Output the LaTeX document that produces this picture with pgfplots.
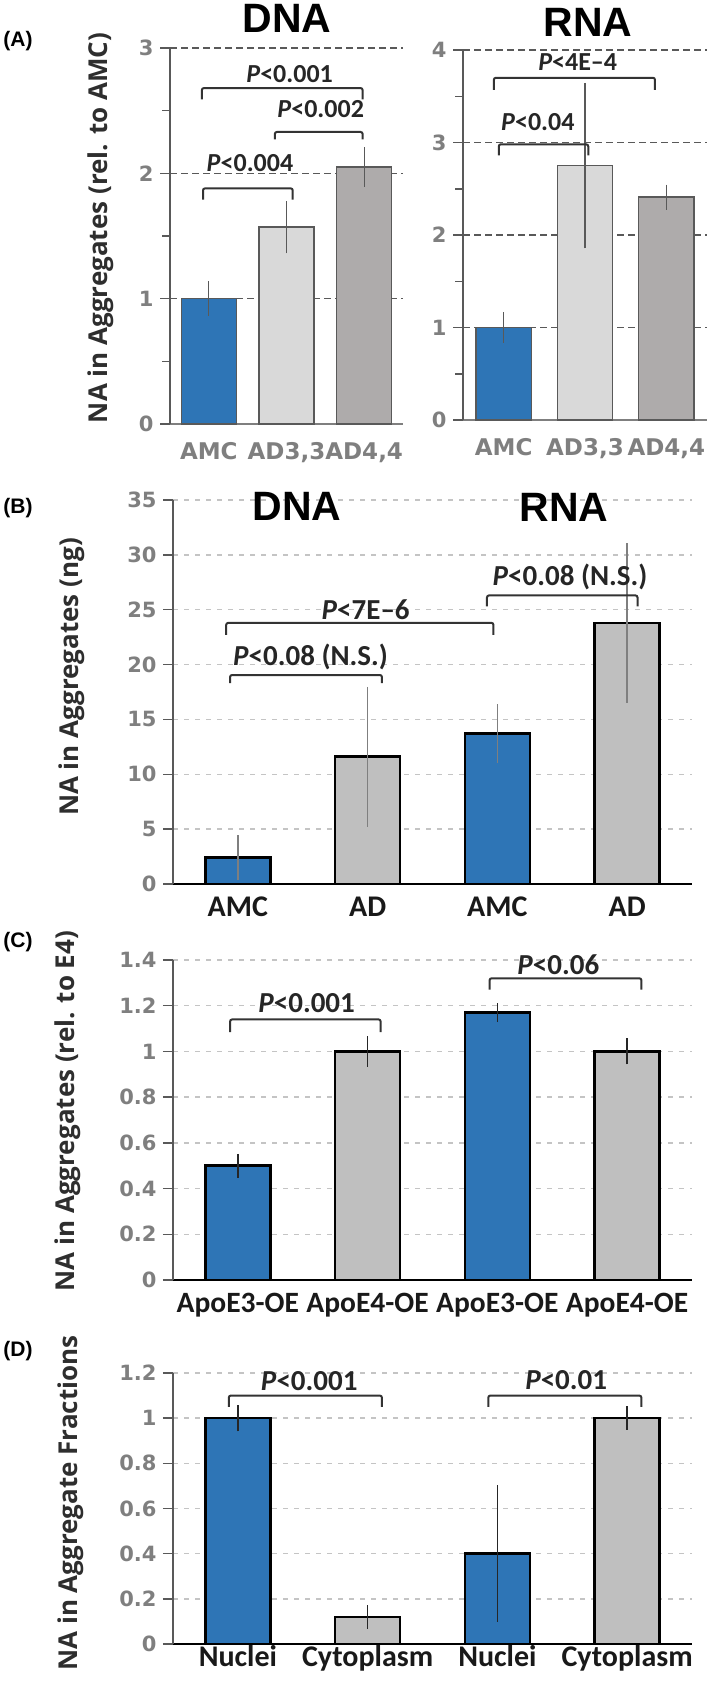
\documentclass[border=0pt]{standalone}
\usepackage{pgfplots}
\pgfplotsset{compat=1.18}
\usepackage{fontspec}
\setmainfont{Liberation Sans}
\newfontfamily\dvs{DejaVu Sans}
\newfontfamily\osans{Open Sans}
\newfontfamily\carl{Carlito}
\newcommand\fs[1]{\fontsize{#1bp}{#1bp}\selectfont}

\definecolor{barblue}{HTML}{2E75B6}
\definecolor{bargray}{HTML}{BFBFBF}
\definecolor{lightbar}{HTML}{D9D9D9}
\definecolor{darkbar}{HTML}{AEABAB}
\definecolor{tickgray}{HTML}{7F7F7F}
\definecolor{axgray}{HTML}{595959}
\definecolor{gridB}{HTML}{C4C4C4}
\definecolor{labgray}{HTML}{2E2E2E}

\tikzset{
  brk/.style={draw=black!80, line width=2bp, rounded corners=2bp},
  plabA/.style={font={\carl\bfseries\fs{26}}, text=black!85, inner sep=0pt},
  plab/.style={font={\carl\bfseries\fs{29}}, text=black!85, inner sep=0pt},
  ttl/.style={font={\bfseries\fs{41}}, anchor=base, inner sep=0pt},
  plet/.style={font={\bfseries\fs{21}}, inner sep=0pt},
  ylab/.style={rotate=90, font={\osans\bfseries\fs{26}}, text=labgray, inner sep=0pt},
}

\pgfplotsset{
  mybase/.style={
    scale only axis, anchor=south west, clip=false,
    axis x line*=bottom, axis y line*=left,
    tick align=outside, major tick length=10bp, minor tick length=8bp,
    xtick style={draw=none},
    ytick style={color=axgray, line width=1.5bp},
    y axis line style={color=axgray, line width=1.5bp},
    ymajorgrids,
    /pgf/number format/assume math mode=true,
    yticklabel style={font={\dvs\bfseries\fs{21}}, text=tickgray, xshift=-3bp},
  },
  panelA/.style={mybase,
    xmin=-0.5, xmax=2.5, ymin=0, xtick={0,1,2},
    xticklabels={AMC,{AD3,3},{AD4,4}},
    grid style={color=axgray, line width=1.5bp, dash pattern=on 7bp off 4bp},
    x axis line style={color=tickgray, line width=2bp},
    xticklabel style={font={\dvs\bfseries\fs{23}}, text=tickgray, anchor=north, yshift=-5bp},
  },
  panelB/.style={mybase,
    xmin=-0.5, xmax=3.5, ymin=0, xtick={0,1,2,3},
    grid style={color=gridB, line width=1.5bp, dash pattern=on 5bp off 6bp},
    x axis line style={color=black, line width=2.5bp},
    xticklabel style={font={\carl\bfseries\fs{30}}, text=black!90, anchor=base, yshift=-22bp},
  },
  barA/.style={ybar, bar shift=0pt, draw=axgray, line width=1.5bp,
    error bars/y dir=both, error bars/y explicit,
    error bars/error bar style={color=axgray, line width=1.3bp},
    error bars/error mark options={color=axgray, line width=1.3bp, mark size=6bp}},
  barB/.style={ybar, bar width=0.5, bar shift=0pt, draw=black, line width=2.5bp,
    error bars/y dir=both, error bars/y explicit,
    error bars/error bar style={color=tickgray, line width=1.3bp},
    error bars/error mark options={color=tickgray, line width=1.3bp, mark size=4bp}},
  barC/.style={ybar, bar width=0.5, bar shift=0pt, draw=black, line width=2.5bp,
    error bars/y dir=both, error bars/y explicit,
    error bars/error bar style={color=black!85, line width=1.3bp},
    error bars/error mark options={color=black!85, line width=1.3bp, mark size=5bp}},
}

\begin{document}
\begin{tikzpicture}
\useasboundingbox (0,0) rectangle (709bp,-1681bp);

% ---------- (A) DNA
\begin{axis}[panelA, at={(170bp,-424bp)}, width=233bp, height=376bp,
  ymax=3, ytick={0,1,2,3}, minor ytick={0.5,1.5,2.5}]
\addplot[fill=barblue, barA, bar width=0.71] table[x=x,y=y,y error=e]{
x y e
0 1.00 0.09
};
\addplot[fill=lightbar, barA, bar width=0.71] table[x=x,y=y,y error=e]{
x y e
1 1.57 0.16
};
\addplot[fill=darkbar, barA, bar width=0.71] table[x=x,y=y,y error=e]{
x y e
2 2.05 0.11
};
\draw[brk] (axis cs:-0.09,2.59) |- (axis cs:1.98,2.68) -- (axis cs:1.98,2.59);
\draw[brk] (axis cs:0.85,2.27) |- (axis cs:1.98,2.33) -- (axis cs:1.98,2.27);
\draw[brk] (axis cs:-0.075,1.79) |- (axis cs:1.08,1.88) -- (axis cs:1.08,1.79);
\node[plabA] at (axis cs:1.04,2.79) {\textit{P}<0.001};
\node[plabA] at (axis cs:1.44,2.51) {\textit{P}<0.002};
\node[plabA] at (axis cs:0.53,2.08) {\textit{P}<0.004};
\end{axis}

% ---------- (A) RNA
\begin{axis}[panelA, at={(463bp,-420bp)}, width=244bp, height=370bp,
  ymax=4, ytick={0,1,2,3,4}, minor ytick={0.5,1.5,2.5,3.5}]
\addplot[fill=barblue, barA, bar width=0.68] table[x=x,y=y,y error=e]{
x y e
0 1.00 0.10
};
\addplot[fill=lightbar, barA, bar width=0.68] table[x=x,y=y,y error=e]{
x y e
1 2.75 0.83
};
\addplot[fill=darkbar, barA, bar width=0.68] table[x=x,y=y,y error=e]{
x y e
2 2.41 0.07
};
\draw[brk] (axis cs:-0.12,3.57) |- (axis cs:1.86,3.70) -- (axis cs:1.86,3.57);
\draw[brk] (axis cs:-0.06,2.86) |- (axis cs:1.04,2.98) -- (axis cs:1.04,2.86);
\node[plabA] at (axis cs:0.91,3.87) {\textit{P}<4E–4};
\node[plabA] at (axis cs:0.42,3.22) {\textit{P}<0.04};
\end{axis}

% ---------- (B)
\begin{axis}[panelB, at={(173bp,-884bp)}, width=519bp, height=384bp,
  ymax=35, ytick={0,5,...,35}, xticklabels={AMC,AD,AMC,AD}]
\addplot[fill=barblue, barB] table[x=x,y=y,y error=e]{
x y e
0 2.4 1.7
2 13.7 2.3
};
\addplot[fill=bargray, barB] table[x=x,y=y,y error=e]{
x y e
1 11.6 6.0
3 23.8 6.9
};
\draw[brk] (axis cs:-0.06,18.3) |- (axis cs:1.11,19.05) -- (axis cs:1.11,18.3);
\draw[brk] (axis cs:-0.09,22.7) |- (axis cs:1.97,23.8) -- (axis cs:1.97,22.7);
\draw[brk] (axis cs:1.92,25.3) |- (axis cs:3.08,26.3) -- (axis cs:3.08,25.3);
\node[plab] at (axis cs:0.56,20.7) {\textit{P}<0.08 (N.S.)};
\node[plab] at (axis cs:0.985,25.0) {\textit{P}<7E–6};
\node[plab] at (axis cs:2.56,28.0) {\textit{P}<0.08 (N.S.)};
\end{axis}

% ---------- (C)
\begin{axis}[panelB, at={(173bp,-1280bp)}, width=519bp, height=320bp,
  ymax=1.4, ytick={0,0.2,...,1.4},
  xticklabels={ApoE3-OE,ApoE4-OE,ApoE3-OE,ApoE4-OE},
  xticklabel style={font={\carl\bfseries\fs{29.5}}}]
\addplot[fill=barblue, barC] table[x=x,y=y,y error=e]{
x y e
0 0.50 0.03
2 1.17 0.02
};
\addplot[fill=bargray, barC] table[x=x,y=y,y error=e]{
x y e
1 1.00 0.045
3 1.00 0.035
};
\draw[brk] (axis cs:-0.06,1.085) |- (axis cs:1.10,1.14) -- (axis cs:1.10,1.085);
\draw[brk] (axis cs:1.94,1.27) |- (axis cs:3.11,1.32) -- (axis cs:3.11,1.27);
\node[plab] at (axis cs:0.53,1.21) {\textit{P}<0.001};
\node[plab] at (axis cs:2.47,1.38) {\textit{P}<0.06};
\end{axis}

% ---------- (D)
\begin{axis}[panelB, at={(173bp,-1644bp)}, width=519bp, height=271bp,
  ymax=1.2, ytick={0,0.2,...,1.2},
  xticklabels={Nuclei,Cytoplasm,Nuclei,Cytoplasm},
  xticklabel style={yshift=10bp}]
\addplot[fill=barblue, barC] table[x=x,y=y,y error=e]{
x y e
0 1.00 0.036
2 0.40 0.28
};
\addplot[fill=bargray, barC] table[x=x,y=y,y error=e]{
x y e
1 0.12 0.03
3 1.00 0.03
};
\draw[brk] (axis cs:-0.07,1.05) |- (axis cs:1.11,1.10) -- (axis cs:1.11,1.05);
\draw[brk] (axis cs:1.93,1.05) |- (axis cs:3.11,1.10) -- (axis cs:3.11,1.05);
\node[plab] at (axis cs:0.55,1.165) {\textit{P}<0.001};
\node[plab] at (axis cs:2.53,1.17) {\textit{P}<0.01};
\end{axis}

% titles, panel letters, axis titles
\node[ttl] at (287bp,-32bp) {DNA};
\node[ttl] at (588bp,-36bp) {RNA};
\node[ttl] at (297bp,-520bp) {DNA};
\node[ttl] at (564bp,-521bp) {RNA};
\node[plet] at (18bp,-41bp) {(A)};
\node[plet] at (18bp,-508bp) {(B)};
\node[plet] at (18bp,-942bp) {(C)};
\node[plet] at (18bp,-1351bp) {(D)};
\node[ylab] at (101bp,-228bp) {NA in Aggregates (rel. to AMC)};
\node[ylab] at (72bp,-677bp) {NA in Aggregates (ng)};
\node[ylab] at (68bp,-1111bp) {NA in Aggregates (rel. to E4)};
\node[ylab] at (71bp,-1503bp) {NA in Aggregate Fractions};
\end{tikzpicture}
\end{document}
